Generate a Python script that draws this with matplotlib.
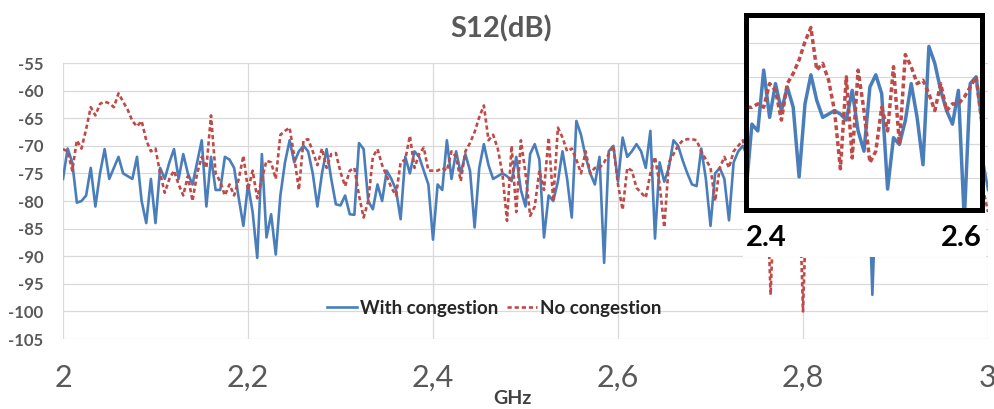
import numpy as np
import matplotlib
matplotlib.use("Agg")
import matplotlib.pyplot as plt
from matplotlib.lines import Line2D
from matplotlib.patches import Rectangle

plt.rcParams['font.family'] = ['Lato', 'DejaVu Sans']

# frequency sweep, 2-3 GHz in 5 MHz steps
freq = np.linspace(2.0, 3.0, 201)

with_congestion = [
    -76, -70.5, -73, -80.3, -80, -79, -74, -81, -75, -70.6,
    -76, -74, -72, -75, -75.5, -76, -72, -80, -84, -76,
    -84, -74, -76, -73, -70.6, -76, -71.5, -75, -77, -73,
    -69, -81, -72, -78, -78, -72, -72.5, -74, -79.5, -84.5,
    -77, -82, -90.3, -71.5, -86.6, -82.4, -89.7, -79, -73, -69,
    -73, -71, -70, -71, -75, -81, -75, -70.6, -76, -80.6,
    -80.8, -79, -82.4, -82.5, -69.5, -70.6, -80, -81.5, -77, -80,
    -74.5, -76, -78, -83.3, -72, -75, -71, -72, -74.5, -77,
    -87, -77, -78, -69, -76, -71, -75, -71.5, -74.5, -84.8,
    -74, -69.7, -73.5, -76, -75.5, -75, -75.5, -76.4, -72, -78,
    -81, -71.5, -69.7, -72.5, -86.6, -79, -80, -76.5, -71, -76,
    -83, -65.5, -68, -72, -75, -77, -72, -91.2, -71, -70,
    -76.5, -68.5, -72, -71, -69.7, -71, -74, -67.3, -86.8, -73,
    -76.5, -74, -69, -70, -72.7, -75, -77, -77.3, -70.5, -76,
    -84.5, -75, -74, -76, -83.5, -73, -71, -70, -72, -75,
    -71, -74, -78, -73, -70, -76, -72, -80, -74, -71,
    -75, -73, -78, -72, -70, -76, -74, -79, -73, -71,
    -75, -72, -77, -74, -72, -97, -73, -70, -75, -72,
    -78, -73, -71, -76, -74, -80, -72, -70, -75, -73,
    -77, -72, -74, -79, -73, -71, -75, -73, -77, -73,
    -78,
]

no_congestion = [
    -70.6, -71, -74.5, -69, -70.5, -67, -63, -64.5, -62.4, -62,
    -62.3, -63, -60.5, -62, -63.5, -65.5, -66.5, -65.5, -69, -71,
    -70.5, -75, -78.5, -76, -74.5, -77, -79, -75.5, -80, -75,
    -72, -74, -64.5, -75, -76.5, -79, -77, -79, -76, -71.8,
    -78, -74.5, -79.5, -76, -72.7, -73, -76, -68, -67.3, -66.7,
    -72, -78, -69, -68.8, -71, -73.5, -70.5, -74, -71.5, -71.3,
    -74.8, -77.3, -74.5, -74, -79, -83, -80, -72, -70.6, -73.5,
    -75.5, -77.6, -79, -73, -72.5, -68.2, -74, -71.5, -70.3, -74.5,
    -74.5, -74.5, -74, -74.5, -71, -72, -76.4, -71, -69.5, -67.5,
    -64.8, -62.7, -69, -68, -70.5, -75, -83.6, -70, -82, -69,
    -75, -82.7, -81, -74.5, -78, -68.5, -80, -66.7, -68.5, -71,
    -70.5, -72.5, -75, -71, -75, -74, -74, -73, -71.5, -70,
    -77, -81.6, -74, -74.5, -77.6, -78.5, -79.4, -75, -72, -77,
    -84.8, -73, -71.5, -70, -69, -68.8, -68.8, -69, -71, -72.5,
    -74, -80, -74, -72, -74, -71, -70, -69, -72, -75,
    -70, -76, -73, -97, -74, -70, -77, -73, -79, -72,
    -100, -74, -70, -76, -72, -78, -71, -75, -73, -80,
    -72, -70, -76, -74, -78, -72, -75, -71, -79, -73,
    -70, -76, -72, -78, -74, -71, -75, -73, -80, -72,
    -70, -76, -74, -78, -72, -75, -71, -77, -74, -78,
    -82,
]

yticks = list(range(-105, -54, 5))
xticks = [2.0, 2.2, 2.4, 2.6, 2.8, 3.0]
xticklabels = ['2', '2,2', '2,4', '2,6', '2,8', '3']

blue = '#4a7ebb'
red = '#be4b48'
grid_c = '#d9d9d9'
txt_c = '#595959'

W, H = 995, 409
fig = plt.figure(figsize=(W / 100, H / 100), dpi=100)
fig.patch.set_facecolor('white')

ax = fig.add_axes([63 / W, 70 / H, 925 / W, 276 / H])
ax.plot(freq, with_congestion, color=blue, lw=1.9, solid_joinstyle='round')
ax.plot(freq, no_congestion, color=red, lw=1.9, linestyle=(0, (1.6, 1.1)))
ax.set_xlim(2, 3)
ax.set_ylim(-105, -55)
ax.set_yticks(yticks)
ax.set_yticklabels([str(v) for v in yticks], fontsize=12, fontweight='bold', color=txt_c)
ax.set_xticks(xticks)
ax.set_xticklabels(xticklabels, fontsize=22, color=txt_c)
ax.tick_params(axis='both', length=0)
ax.tick_params(axis='y', pad=14)
ax.tick_params(axis='x', pad=18)
ax.grid(True, color=grid_c, lw=0.9)
ax.set_axisbelow(True)
for s in ax.spines.values():
    s.set_visible(False)

handles = [Line2D([], [], color=blue, lw=1.9),
           Line2D([], [], color=red, lw=1.9, linestyle=(0, (1.6, 1.1)))]
ax.legend(handles, ['With congestion', 'No congestion'], loc='center',
          bbox_to_anchor=(0.466, 0.112), ncol=2, frameon=False,
          handlelength=1.6, handletextpad=0.15, columnspacing=0.5,
          prop={'family': 'Lato', 'weight': 'bold', 'size': 13.5},
          labelcolor='#262626')

fig.text(501 / W, 1 - 29 / H, 'S12(dB)', ha='center', va='center',
         fontsize=21, fontweight='bold', color=txt_c)
fig.text(512 / W, 1 - 398 / H, 'GHz', ha='center', va='center',
         fontsize=14, fontweight='bold', color='#404040')

# zoom window 2.4-2.6 GHz
strip = Rectangle((743 / W, 1 - 257 / H), 243 / W, 44 / H, transform=fig.transFigure,
                  facecolor='white', edgecolor='none', zorder=4)
fig.add_artist(strip)

inax = fig.add_axes([746 / W, 1 - 210 / H, 236 / W, 195 / H], zorder=5)
inax.set_facecolor('white')
inax.plot(freq, with_congestion, color=blue, lw=2.5, solid_joinstyle='round')
inax.plot(freq, no_congestion, color=red, lw=2.5, linestyle=(0, (1.4, 0.9)))
inax.set_xlim(2.4, 2.6)
inax.set_ylim(-89.7, -60.85)
inax.set_yticks(range(-85, -64, 5))
inax.set_xticks([])
inax.grid(True, axis='y', color=grid_c, lw=0.9)
inax.set_axisbelow(True)
inax.tick_params(axis='y', length=0, labelleft=False)
for s in inax.spines.values():
    s.set_color('black')
    s.set_linewidth(3.6)

fig.text(766 / W, 1 - 238 / H, '2.4', ha='center', va='center',
         fontsize=21, fontweight='bold', color='black', zorder=6)
fig.text(961 / W, 1 - 238 / H, '2.6', ha='center', va='center',
         fontsize=21, fontweight='bold', color='black', zorder=6)

fig.savefig('out.png', dpi=100)
